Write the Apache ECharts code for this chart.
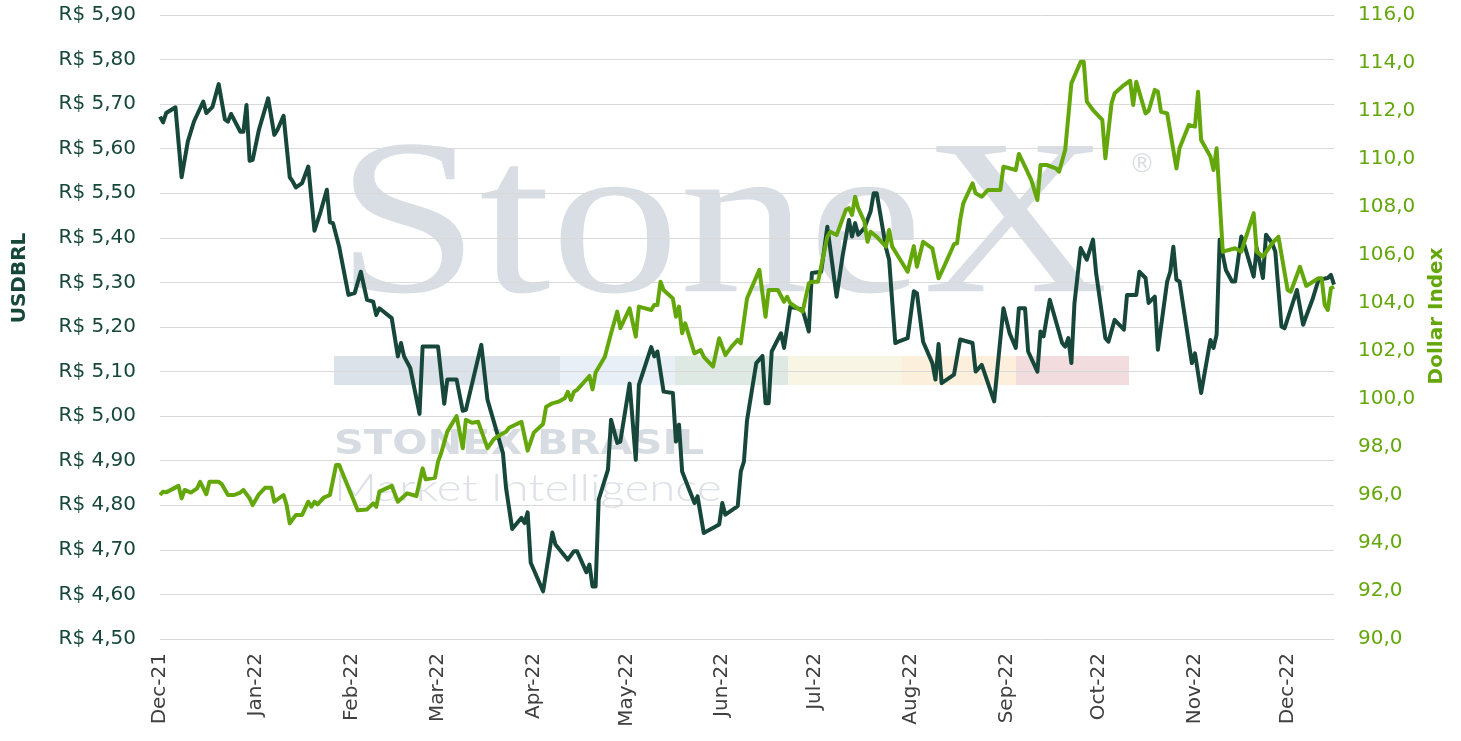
<!DOCTYPE html>
<html>
<head>
<meta charset="utf-8">
<title>USDBRL x Dollar Index</title>
<script src="https://cdn.jsdelivr.net/npm/echarts@6/dist/echarts.min.js"></script>
<style>
    html, body { margin: 0; padding: 0; background: #fff; }
    #chart { width: 1461px; height: 741px; }
</style>
</head>
<body>
<div id="chart"></div>
<script>
// meses do eixo x
var monthLabels = ['Jan', 'Feb', 'Mar', 'Apr', 'May', 'Jun', 'Jul', 'Aug', 'Sep', 'Oct', 'Nov', 'Dec'];

// USDBRL (eixo esquerdo)
var brlDates = [
    '2021-12-01', '2021-12-02', '2021-12-03', '2021-12-06', '2021-12-08', '2021-12-10', '2021-12-12', '2021-12-15',
    '2021-12-16', '2021-12-18', '2021-12-20', '2021-12-22', '2021-12-23', '2021-12-24', '2021-12-27', '2021-12-28',
    '2021-12-29', '2021-12-30', '2021-12-31', '2022-01-02', '2022-01-05', '2022-01-07', '2022-01-08', '2022-01-10',
    '2022-01-12', '2022-01-13', '2022-01-14', '2022-01-16', '2022-01-18', '2022-01-20', '2022-01-22', '2022-01-24',
    '2022-01-25', '2022-01-26', '2022-01-28', '2022-01-31', '2022-02-02', '2022-02-04', '2022-02-06', '2022-02-08',
    '2022-02-09', '2022-02-10', '2022-02-14', '2022-02-16', '2022-02-17', '2022-02-18', '2022-02-20', '2022-02-23',
    '2022-02-24', '2022-03-01', '2022-03-03', '2022-03-04', '2022-03-07', '2022-03-09', '2022-03-10', '2022-03-15',
    '2022-03-17', '2022-03-22', '2022-03-23', '2022-03-25', '2022-03-28', '2022-03-29', '2022-03-30', '2022-03-31',
    '2022-04-04', '2022-04-07', '2022-04-08', '2022-04-12', '2022-04-14', '2022-04-15', '2022-04-18', '2022-04-19',
    '2022-04-20', '2022-04-21', '2022-04-22', '2022-04-25', '2022-04-26', '2022-04-28', '2022-04-29', '2022-05-02',
    '2022-05-04', '2022-05-05', '2022-05-09', '2022-05-10', '2022-05-11', '2022-05-13', '2022-05-16', '2022-05-17',
    '2022-05-18', '2022-05-19', '2022-05-23', '2022-05-24', '2022-05-26', '2022-05-31', '2022-06-01', '2022-06-02',
    '2022-06-06', '2022-06-07', '2022-06-08', '2022-06-09', '2022-06-12', '2022-06-14', '2022-06-15', '2022-06-16',
    '2022-06-17', '2022-06-20', '2022-06-21', '2022-06-23', '2022-06-27', '2022-06-29', '2022-06-30', '2022-07-03',
    '2022-07-05', '2022-07-08', '2022-07-10', '2022-07-12', '2022-07-13', '2022-07-14', '2022-07-15', '2022-07-17',
    '2022-07-19', '2022-07-20', '2022-07-21', '2022-07-24', '2022-07-25', '2022-07-27', '2022-07-28', '2022-07-31',
    '2022-08-02', '2022-08-03', '2022-08-05', '2022-08-08', '2022-08-09', '2022-08-10', '2022-08-11', '2022-08-15',
    '2022-08-17', '2022-08-21', '2022-08-22', '2022-08-24', '2022-08-26', '2022-08-28', '2022-08-31', '2022-09-02',
    '2022-09-04', '2022-09-05', '2022-09-07', '2022-09-08', '2022-09-11', '2022-09-12', '2022-09-13', '2022-09-15',
    '2022-09-19', '2022-09-20', '2022-09-21', '2022-09-22', '2022-09-23', '2022-09-25', '2022-09-27', '2022-09-29',
    '2022-09-30', '2022-10-03', '2022-10-04', '2022-10-06', '2022-10-09', '2022-10-10', '2022-10-13', '2022-10-14',
    '2022-10-16', '2022-10-17', '2022-10-19', '2022-10-20', '2022-10-23', '2022-10-24', '2022-10-25', '2022-10-26',
    '2022-10-27', '2022-10-31', '2022-11-01', '2022-11-03', '2022-11-06', '2022-11-07', '2022-11-08', '2022-11-09',
    '2022-11-11', '2022-11-13', '2022-11-14', '2022-11-16', '2022-11-17', '2022-11-20', '2022-11-21', '2022-11-23',
    '2022-11-24', '2022-11-26', '2022-11-27', '2022-11-29', '2022-11-30', '2022-12-04', '2022-12-06', '2022-12-07',
    '2022-12-09', '2022-12-11', '2022-12-14', '2022-12-15', '2022-12-16'
];
var brlValues = [
    5.672, 5.659, 5.680, 5.693, 5.536, 5.616, 5.661, 5.706,
    5.680, 5.694, 5.745, 5.666, 5.661, 5.678, 5.638, 5.638,
    5.698, 5.573, 5.575, 5.642, 5.713, 5.631, 5.642, 5.674,
    5.536, 5.526, 5.513, 5.523, 5.560, 5.416, 5.459, 5.508,
    5.435, 5.433, 5.380, 5.272, 5.276, 5.324, 5.261, 5.257,
    5.227, 5.242, 5.220, 5.134, 5.164, 5.134, 5.108, 5.005,
    5.156, 5.156, 5.028, 5.082, 5.082, 5.012, 5.014, 5.160,
    5.037, 4.917, 4.839, 4.747, 4.772, 4.760, 4.784, 4.671,
    4.607, 4.739, 4.712, 4.678, 4.697, 4.697, 4.650, 4.667,
    4.618, 4.618, 4.813, 4.880, 4.992, 4.940, 4.943, 5.073,
    4.902, 5.070, 5.155, 5.134, 5.145, 5.055, 5.052, 4.943,
    4.981, 4.876, 4.805, 4.820, 4.738, 4.757, 4.805, 4.779,
    4.798, 4.876, 4.898, 4.990, 5.119, 5.135, 5.029, 5.029,
    5.145, 5.186, 5.153, 5.246, 5.239, 5.190, 5.321, 5.324,
    5.425, 5.268, 5.362, 5.440, 5.403, 5.433, 5.407, 5.422,
    5.459, 5.500, 5.500, 5.377, 5.351, 5.164, 5.167, 5.175,
    5.280, 5.276, 5.167, 5.119, 5.082, 5.162, 5.074, 5.093,
    5.172, 5.164, 5.100, 5.115, 5.074, 5.033, 5.242, 5.186,
    5.153, 5.242, 5.242, 5.145, 5.100, 5.190, 5.179, 5.261,
    5.164, 5.156, 5.175, 5.119, 5.254, 5.377, 5.351, 5.396,
    5.321, 5.175, 5.167, 5.216, 5.194, 5.272, 5.272, 5.324,
    5.310, 5.254, 5.268, 5.149, 5.302, 5.324, 5.380, 5.306,
    5.302, 5.119, 5.141, 5.052, 5.171, 5.153, 5.183, 5.396,
    5.328, 5.302, 5.302, 5.403, 5.384, 5.313, 5.377, 5.310,
    5.407, 5.388, 5.369, 5.201, 5.197, 5.283, 5.205, 5.224,
    5.261, 5.306, 5.310, 5.317, 5.295
];

// Dollar Index (eixo direito)
var dxyDates = [
    '2021-12-01', '2021-12-02', '2021-12-03', '2021-12-07', '2021-12-08', '2021-12-09', '2021-12-11', '2021-12-13',
    '2021-12-14', '2021-12-16', '2021-12-17', '2021-12-20', '2021-12-21', '2021-12-23', '2021-12-25', '2021-12-27',
    '2021-12-28', '2021-12-30', '2021-12-31', '2022-01-02', '2022-01-04', '2022-01-06', '2022-01-07', '2022-01-10',
    '2022-01-11', '2022-01-12', '2022-01-14', '2022-01-16', '2022-01-18', '2022-01-19', '2022-01-20', '2022-01-21',
    '2022-01-23', '2022-01-25', '2022-01-27', '2022-01-28', '2022-01-31', '2022-02-03', '2022-02-06', '2022-02-08',
    '2022-02-09', '2022-02-10', '2022-02-14', '2022-02-16', '2022-02-19', '2022-02-22', '2022-02-24', '2022-02-25',
    '2022-02-28', '2022-03-01', '2022-03-02', '2022-03-04', '2022-03-07', '2022-03-09', '2022-03-10', '2022-03-12',
    '2022-03-14', '2022-03-17', '2022-03-19', '2022-03-21', '2022-03-23', '2022-03-24', '2022-03-28', '2022-03-30',
    '2022-04-01', '2022-04-04', '2022-04-05', '2022-04-07', '2022-04-09', '2022-04-11', '2022-04-12', '2022-04-13',
    '2022-04-14', '2022-04-15', '2022-04-19', '2022-04-20', '2022-04-21', '2022-04-24', '2022-04-26', '2022-04-28',
    '2022-04-29', '2022-05-02', '2022-05-04', '2022-05-05', '2022-05-09', '2022-05-10', '2022-05-11', '2022-05-12',
    '2022-05-13', '2022-05-16', '2022-05-17', '2022-05-18', '2022-05-19', '2022-05-20', '2022-05-23', '2022-05-25',
    '2022-05-26', '2022-05-29', '2022-05-31', '2022-06-02', '2022-06-04', '2022-06-06', '2022-06-07', '2022-06-09',
    '2022-06-13', '2022-06-15', '2022-06-16', '2022-06-19', '2022-06-21', '2022-06-22', '2022-06-23', '2022-06-27',
    '2022-06-29', '2022-06-30', '2022-07-02', '2022-07-05', '2022-07-06', '2022-07-08', '2022-07-11', '2022-07-12',
    '2022-07-13', '2022-07-14', '2022-07-15', '2022-07-17', '2022-07-18', '2022-07-19', '2022-07-21', '2022-07-24',
    '2022-07-25', '2022-07-26', '2022-07-28', '2022-07-31', '2022-08-02', '2022-08-03', '2022-08-05', '2022-08-08',
    '2022-08-10', '2022-08-12', '2022-08-15', '2022-08-16', '2022-08-17', '2022-08-18', '2022-08-21', '2022-08-22',
    '2022-08-24', '2022-08-26', '2022-08-30', '2022-08-31', '2022-09-04', '2022-09-05', '2022-09-07', '2022-09-09',
    '2022-09-11', '2022-09-12', '2022-09-14', '2022-09-17', '2022-09-18', '2022-09-20', '2022-09-22', '2022-09-25',
    '2022-09-26', '2022-09-27', '2022-09-29', '2022-10-02', '2022-10-03', '2022-10-05', '2022-10-06', '2022-10-09',
    '2022-10-11', '2022-10-12', '2022-10-13', '2022-10-16', '2022-10-17', '2022-10-19', '2022-10-20', '2022-10-21',
    '2022-10-23', '2022-10-26', '2022-10-27', '2022-10-30', '2022-11-01', '2022-11-02', '2022-11-03', '2022-11-06',
    '2022-11-07', '2022-11-08', '2022-11-10', '2022-11-14', '2022-11-16', '2022-11-20', '2022-11-21', '2022-11-23',
    '2022-11-26', '2022-11-28', '2022-12-01', '2022-12-02', '2022-12-05', '2022-12-07', '2022-12-11', '2022-12-12',
    '2022-12-13', '2022-12-14', '2022-12-15', '2022-12-16'
];
var dxyValues = [
    96.00, 96.14, 96.11, 96.38, 95.86, 96.21, 96.10, 96.28,
    96.55, 96.03, 96.55, 96.55, 96.45, 96.00, 96.00, 96.10,
    96.21, 95.86, 95.58, 96.03, 96.30, 96.30, 95.72, 96.00,
    95.58, 94.82, 95.17, 95.17, 95.72, 95.51, 95.72, 95.61,
    95.89, 96.00, 97.25, 97.25, 96.30, 95.36, 95.40, 95.65,
    95.51, 96.14, 96.38, 95.72, 96.07, 95.96, 97.11, 96.65,
    96.72, 97.39, 97.74, 98.64, 99.29, 97.95, 99.13, 99.01,
    99.05, 97.95, 98.32, 98.50, 98.64, 98.80, 99.05, 97.85,
    98.60, 98.96, 99.68, 99.82, 99.89, 100.03, 100.30, 99.96,
    100.30, 100.38, 100.96, 100.40, 101.10, 101.76, 102.74, 103.64,
    102.95, 103.78, 102.60, 103.85, 103.71, 103.92, 103.92, 104.89,
    104.54, 104.19, 103.43, 103.85, 102.74, 103.15, 101.90, 102.04,
    101.76, 101.35, 102.53, 101.83, 102.18, 102.46, 102.32, 104.19,
    105.38, 103.43, 104.54, 104.54, 104.05, 104.26, 103.99, 103.64,
    104.82, 104.89, 104.89, 106.76, 106.97, 106.83, 107.88, 107.95,
    107.67, 108.43, 107.95, 107.39, 106.55, 106.97, 106.76, 106.35,
    107.04, 106.35, 105.93, 105.30, 106.37, 105.51, 106.55, 106.28,
    105.03, 105.58, 106.45, 106.49, 107.46, 108.15, 108.99, 108.57,
    108.43, 108.71, 108.71, 109.68, 109.54, 110.21, 109.68, 109.13,
    108.29, 109.75, 109.75, 109.61, 109.47, 110.38, 113.15, 114.05,
    114.05, 112.39, 112.04, 111.63, 110.03, 112.32, 112.74, 113.08,
    113.26, 112.25, 113.22, 111.90, 112.00, 112.88, 112.80, 111.97,
    111.90, 109.61, 110.45, 111.42, 111.35, 112.80, 110.79, 110.10,
    109.54, 110.45, 106.14, 106.28, 106.14, 107.74, 106.14, 105.93,
    106.49, 106.76, 104.54, 104.47, 105.51, 104.71, 105.03, 105.03,
    103.92, 103.71, 104.61, 104.68
];

var darkGreen = '#16473a';
var lightGreen = '#64a70b';
var labelFont = '"DejaVu Sans", sans-serif';
var wmColor = '#d9dee5';

function toPairs(dates, values) {
    var out = [];
    for (var i = 0; i < dates.length; i++) {
        out.push([dates[i], values[i]]);
    }
    return out;
}

var myChart = echarts.init(document.getElementById('chart'));

var option = {
    animation: false,
    backgroundColor: '#ffffff',
    grid: { left: 160, right: 127, top: 15, bottom: 102 },
    // marca d'agua StoneX
    graphic: [
        { type: 'rect', z: -10, shape: { x: 334, y: 356, width: 226, height: 29 }, style: { fill: '#dce2ea' } },
        { type: 'rect', z: -10, shape: { x: 560, y: 356, width: 115, height: 29 }, style: { fill: '#e8eff6' } },
        { type: 'rect', z: -10, shape: { x: 675, y: 356, width: 113, height: 29 }, style: { fill: '#dfe9e3' } },
        { type: 'rect', z: -10, shape: { x: 788, y: 356, width: 114, height: 29 }, style: { fill: '#f8f5e4' } },
        { type: 'rect', z: -10, shape: { x: 902, y: 356, width: 114, height: 29 }, style: { fill: '#fcefdc' } },
        { type: 'rect', z: -10, shape: { x: 1016, y: 356, width: 113, height: 29 }, style: { fill: '#f2dcdd' } },
        {
            type: 'text', z: -10, x: 336, y: 233, scaleX: 1.16,
            style: { text: 'StoneX', font: '222px "Liberation Serif", serif', fill: wmColor, textVerticalAlign: 'middle' }
        },
        {
            type: 'text', z: -10, x: 1142, y: 165,
            style: { text: '®', font: '26px "DejaVu Sans", sans-serif', fill: wmColor, textAlign: 'center', textVerticalAlign: 'middle' }
        },
        {
            type: 'text', z: -10, x: 334, y: 445, scaleX: 1.22,
            style: { text: 'STONEX BRASIL', font: 'bold 34px "DejaVu Sans", sans-serif', fill: '#d7dce3', textVerticalAlign: 'middle' }
        },
        {
            type: 'text', z: -10, x: 334, y: 489, scaleX: 1.28,
            style: { text: 'Market Intelligence', font: '300 37px Lato, sans-serif', fill: '#dde1e7', textVerticalAlign: 'middle' }
        },
        // nomes dos eixos
        {
            type: 'text', x: 20, y: 278, rotation: Math.PI / 2,
            style: { text: 'USDBRL', font: 'bold 20px ' + labelFont, fill: darkGreen, textAlign: 'center', textVerticalAlign: 'middle' }
        },
        {
            type: 'text', x: 1437, y: 316, rotation: Math.PI / 2,
            style: { text: 'Dollar Index', font: 'bold 20px ' + labelFont, fill: lightGreen, textAlign: 'center', textVerticalAlign: 'middle' }
        }
    ],
    xAxis: {
        type: 'time',
        min: '2021-12-01',
        max: '2022-12-16',
        splitNumber: 12,
        minInterval: 28 * 86400000,
        maxInterval: 31 * 86400000,
        axisLine: { show: false },
        axisTick: { show: false },
        splitLine: { show: false },
        axisLabel: {
            rotate: 90,
            margin: 14,
            color: '#404040',
            fontSize: 20,
            fontFamily: labelFont,
            hideOverlap: false,
            formatter: function (value) {
                var d = new Date(value);
                if (d.getDate() !== 1) {
                    return '';
                }
                return monthLabels[d.getMonth()] + '-' + String(d.getFullYear()).slice(2);
            }
        }
    },
    yAxis: [
        {
            type: 'value',
            min: 4.5,
            max: 5.9,
            interval: 0.1,
            axisLine: { show: false },
            axisTick: { show: false },
            splitLine: { lineStyle: { color: '#d9d9d9', width: 1 } },
            axisLabel: {
                margin: 24,
                color: darkGreen,
                fontSize: 20,
                fontFamily: labelFont,
                formatter: function (v) {
                    return 'R$ ' + v.toFixed(2).replace('.', ',');
                }
            }
        },
        {
            type: 'value',
            min: 90,
            max: 116,
            interval: 2,
            axisLine: { show: false },
            axisTick: { show: false },
            splitLine: { show: false },
            axisLabel: {
                margin: 24,
                color: lightGreen,
                fontSize: 20,
                fontFamily: labelFont,
                formatter: function (v) {
                    return v.toFixed(1).replace('.', ',');
                }
            }
        }
    ],
    series: [
        {
            name: 'USDBRL',
            type: 'line',
            yAxisIndex: 0,
            symbol: 'none',
            lineStyle: { color: darkGreen, width: 4, join: 'round' },
            itemStyle: { color: darkGreen },
            data: toPairs(brlDates, brlValues)
        },
        {
            name: 'Dollar Index',
            type: 'line',
            yAxisIndex: 1,
            symbol: 'none',
            lineStyle: { color: lightGreen, width: 4, join: 'round' },
            itemStyle: { color: lightGreen },
            data: toPairs(dxyDates, dxyValues)
        }
    ]
};

if (option && typeof option === 'object') {
    myChart.setOption(option, true);
}
</script>
</body>
</html>
